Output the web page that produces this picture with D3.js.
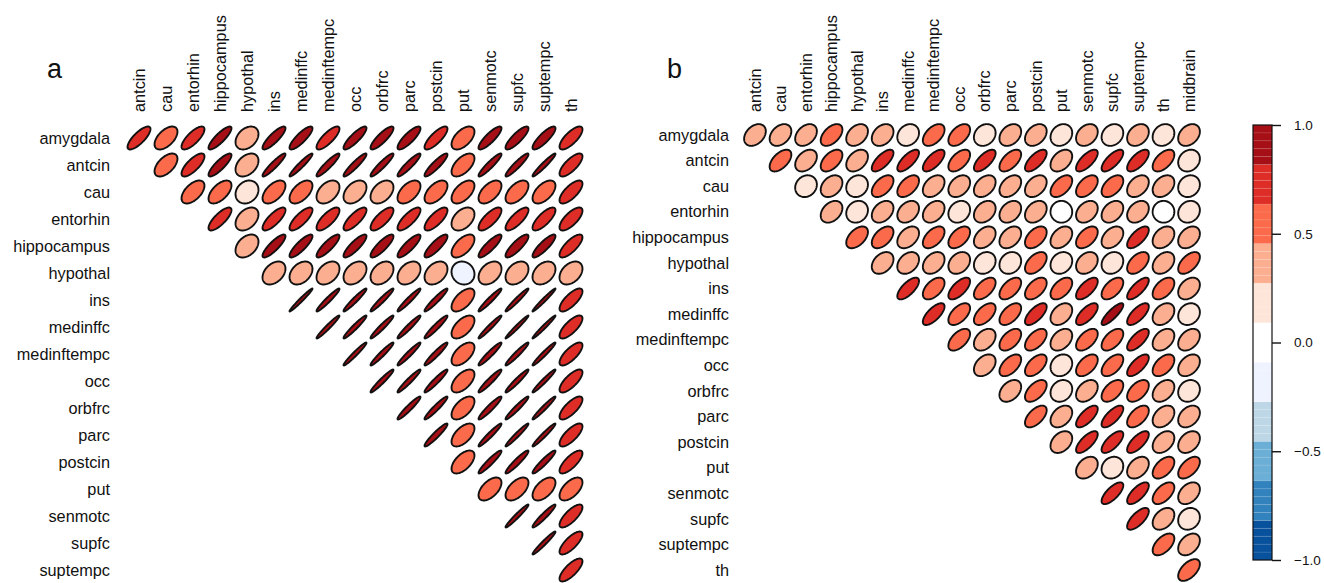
<!DOCTYPE html>
<html>
<head>
<meta charset="utf-8">
<script src="https://cdn.jsdelivr.net/npm/d3@7"></script>
<style>
  html, body { margin: 0; padding: 0; background: #fff; }
  svg { display: block; }
  text { font-family: "Liberation Sans", Arial, Helvetica, sans-serif; fill: #111; }
</style>
</head>
<body>
<svg id="chart" width="1324" height="583"></svg>
<script>
// ---------------- DATA ----------------
const rowsA = ["amygdala","antcin","cau","entorhin","hippocampus","hypothal","ins","medinffc","medinftempc","occ","orbfrc","parc","postcin","put","senmotc","supfc","suptempc"];
const colsA = ["antcin","cau","entorhin","hippocampus","hypothal","ins","medinffc","medinftempc","occ","orbfrc","parc","postcin","put","senmotc","supfc","suptempc","th"];
// upper triangle: row i holds columns i..end
const valuesA = [
  [0.78,0.55,0.76,0.85,0.35,0.85,0.84,0.80,0.86,0.85,0.83,0.80,0.55,0.85,0.84,0.84,0.75],
  [0.55,0.75,0.85,0.38,0.93,0.95,0.92,0.93,0.93,0.92,0.90,0.58,0.93,0.93,0.96,0.75],
  [0.55,0.58,0.20,0.55,0.55,0.42,0.42,0.42,0.52,0.55,0.55,0.55,0.55,0.55,0.72],
  [0.78,0.40,0.78,0.78,0.75,0.78,0.75,0.78,0.75,0.42,0.75,0.78,0.76,0.72],
  [0.38,0.85,0.85,0.85,0.85,0.84,0.85,0.84,0.60,0.86,0.84,0.86,0.76],
  [0.38,0.36,0.38,0.37,0.36,0.37,0.36,-0.10,0.37,0.36,0.35,0.38],
  [0.98,0.96,0.96,0.96,0.96,0.95,0.60,0.96,0.97,0.98,0.75],
  [0.97,0.96,0.96,0.96,0.95,0.58,0.97,0.98,0.98,0.75],
  [0.97,0.96,0.96,0.95,0.58,0.95,0.96,0.97,0.75],
  [0.96,0.96,0.95,0.58,0.95,0.96,0.97,0.75],
  [0.95,0.95,0.58,0.94,0.96,0.97,0.75],
  [0.94,0.58,0.96,0.97,0.97,0.75],
  [0.58,0.94,0.94,0.94,0.76],
  [0.55,0.55,0.55,0.58],
  [0.97,0.95,0.76],
  [0.97,0.76],
  [0.76]
];

const rowsB = ["amygdala","antcin","cau","entorhin","hippocampus","hypothal","ins","medinffc","medinftempc","occ","orbfrc","parc","postcin","put","senmotc","supfc","suptempc","th"];
const colsB = ["antcin","cau","entorhin","hippocampus","hypothal","ins","medinffc","medinftempc","occ","orbfrc","parc","postcin","put","senmotc","supfc","suptempc","th","midbrain"];
const valuesB = [
  [0.35,0.35,0.35,0.50,0.35,0.32,0.20,0.50,0.50,0.20,0.32,0.35,0.20,0.30,0.20,0.30,0.18,0.32],
  [0.55,0.38,0.52,0.38,0.70,0.72,0.68,0.55,0.68,0.58,0.68,0.40,0.70,0.72,0.68,0.55,0.18],
  [0.15,0.33,0.15,0.52,0.52,0.38,0.35,0.38,0.40,0.38,0.52,0.50,0.50,0.38,0.35,0.15],
  [0.35,0.15,0.35,0.33,0.35,0.20,0.32,0.33,0.32,0.00,0.33,0.35,0.33,0.00,0.15],
  [0.50,0.50,0.40,0.52,0.50,0.38,0.38,0.48,0.38,0.50,0.40,0.68,0.35,0.35],
  [0.35,0.33,0.35,0.30,0.20,0.18,0.50,0.20,0.30,0.18,0.50,0.35,0.55],
  [0.70,0.52,0.66,0.55,0.55,0.52,0.52,0.66,0.55,0.75,0.50,0.35],
  [0.70,0.55,0.55,0.55,0.68,0.38,0.68,0.84,0.70,0.35,0.18],
  [0.55,0.38,0.52,0.55,0.38,0.55,0.55,0.70,0.38,0.38],
  [0.38,0.55,0.55,0.18,0.52,0.55,0.70,0.50,0.38],
  [0.38,0.55,0.18,0.38,0.52,0.52,0.38,0.15],
  [0.58,0.38,0.70,0.72,0.55,0.38,0.35],
  [0.35,0.72,0.70,0.70,0.38,0.35],
  [0.35,0.15,0.38,0.52,0.55],
  [0.72,0.70,0.55,0.38],
  [0.70,0.38,0.15],
  [0.55,0.38],
  [0.55]
];

const paletteColors = ["#08519C","#3182BD","#6BAED6","#BDD7E7","#EFF3FF","#FFFFFF","#FEE5D9","#FCAE91","#FB6A4A","#DE2D26","#A50F15"];
const legendTicks = [1.0, 0.5, 0.0, -0.5, -1.0];
const panelLetters = ["a", "b"];

// ---------------- DRAW ----------------
const svg = d3.select("#chart");
const color = d3.scaleQuantize().domain([-1, 1]).range(paletteColors);
const FONT = 16.3;

function ellipsePoints(rho, rx, ry) {
  const a = Math.acos(Math.max(-1, Math.min(1, rho)));
  const pts = [];
  const n = 98;
  for (let i = 0; i <= n; i++) {
    const k = (2 * Math.PI * i) / n;
    pts.push([0.85 * Math.cos(k + a / 2) / 2 * rx, -0.85 * Math.cos(k - a / 2) / 2 * ry]);
  }
  return pts;
}
const line = d3.line().curve(d3.curveLinearClosed);

function drawPanel(cfg) {
  const g = svg.append("g");
  const x = d3.scaleBand().domain(cfg.cols).range(cfg.xRange).padding(0);
  const y = d3.scaleBand().domain(cfg.rows).range(cfg.yRange).padding(0);
  const bw = x.bandwidth(), bh = y.bandwidth();

  g.selectAll("text.rl").data(cfg.rows).join("text")
    .attr("class", "rl")
    .attr("x", cfg.rowLabelX)
    .attr("y", d => y(d) + bh / 2)
    .attr("dy", "0.35em")
    .attr("text-anchor", "end")
    .attr("font-size", FONT)
    .text(d => d);

  g.selectAll("text.cl").data(cfg.cols).join("text")
    .attr("class", "cl")
    .attr("transform", d => `translate(${x(d) + bw / 2},${cfg.colLabelY}) rotate(-90)`)
    .attr("dy", "0.35em")
    .attr("text-anchor", "start")
    .attr("font-size", FONT)
    .text(d => d);

  const cells = [];
  cfg.values.forEach((row, i) => {
    row.forEach((v, j) => {
      cells.push({ r: cfg.rows[i], c: cfg.cols[i + j], v });
    });
  });
  g.selectAll("path.cell").data(cells).join("path")
    .attr("class", "cell")
    .attr("transform", d => `translate(${x(d.c) + bw / 2},${y(d.r) + bh / 2})`)
    .attr("d", d => line(ellipsePoints(d.v, bw, bh)))
    .attr("fill", d => color(d.v))
    .attr("stroke", "#111")
    .attr("stroke-width", 1.9);

  svg.append("text")
    .attr("x", cfg.letterX).attr("y", 78)
    .attr("font-size", 27)
    .text(cfg.letter);
}

drawPanel({
  rows: rowsA, cols: colsA, values: valuesA,
  xRange: [125.5, 584.5], yRange: [124.5, 583.5],
  rowLabelX: 110, colLabelY: 112, letter: panelLetters[0], letterX: 47
});
drawPanel({
  rows: rowsB, cols: colsB, values: valuesB,
  xRange: [742.2, 1201.8], yRange: [122.2, 582.8],
  rowLabelX: 729, colLabelY: 112, letter: panelLetters[1], letterX: 667
});

// ---------------- COLOR LEGEND ----------------
const ly = d3.scaleLinear().domain([-1, 1]).range([560, 125]);
const lg = svg.append("g");
const legX = 1253, legW = 19;
const nSub = 5;
const stripes = [];
paletteColors.forEach((c, i) => {
  const lo = -1 + (2 / paletteColors.length) * i;
  const step = 2 / paletteColors.length / nSub;
  for (let s = 0; s < nSub; s++) stripes.push({ lo: lo + s * step, hi: lo + (s + 1) * step, c });
});
lg.selectAll("rect.st").data(stripes).join("rect")
  .attr("class", "st")
  .attr("x", legX).attr("width", legW)
  .attr("y", d => ly(d.hi))
  .attr("height", d => ly(d.lo) - ly(d.hi))
  .attr("fill", d => d.c);
lg.selectAll("line.seam").data(stripes.slice(1)).join("line")
  .attr("class", "seam")
  .attr("x1", legX).attr("x2", legX + legW)
  .attr("y1", d => ly(d.lo)).attr("y2", d => ly(d.lo))
  .attr("stroke", "#fff").attr("stroke-opacity", 0.18).attr("stroke-width", 0.6);
lg.append("rect")
  .attr("x", legX).attr("y", ly(1)).attr("width", legW).attr("height", ly(-1) - ly(1))
  .attr("fill", "none").attr("stroke", "#111").attr("stroke-width", 1.2);

const axis = d3.axisRight(ly).tickValues(legendTicks).tickFormat(d3.format(".1f")).tickSize(9).tickPadding(13);
const ag = lg.append("g").attr("transform", `translate(${legX + legW},0)`).call(axis);
ag.select(".domain").remove();
ag.selectAll(".tick line").attr("stroke", "#111").attr("stroke-width", 1.4);
ag.selectAll(".tick text").attr("font-size", 13.5).attr("fill", "#111")
  .attr("font-family", "'Liberation Sans', Arial, Helvetica, sans-serif");
</script>
</body>
</html>
